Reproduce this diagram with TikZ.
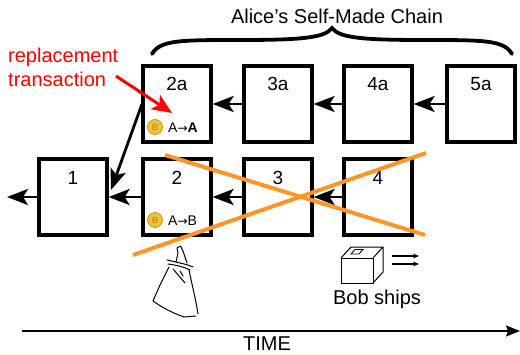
\documentclass[tikz,border=0pt]{standalone}
\usepackage{fontspec}
\setmainfont{Liberation Sans}
\newfontfamily\arrowfont{DejaVu Sans}
\usetikzlibrary{arrows.meta}
\definecolor{xorange}{RGB}{255,150,40}
\definecolor{coingold}{RGB}{236,196,60}
\definecolor{coinedge}{RGB}{200,150,30}
\tikzset{
  blk/.style={draw, line width=3.2pt, minimum width=68pt, minimum height=76pt, inner sep=0pt},
  num/.style={font=\fontsize{19}{22}\selectfont},
  lbl/.style={font=\fontsize{20}{24}\selectfont},
  chainarrow/.style={line width=2.8pt, -{Stealth[length=21pt,width=16pt,inset=5pt]}},
  cross/.style={xorange, line width=4pt},
  coinsty/.style={circle, fill=coingold, draw=coinedge, line width=0.8pt, minimum size=15pt, inner sep=0pt},
  coinb/.style={font=\fontsize{9}{9}\selectfont\bfseries, text=coinedge, inner sep=0pt},
  txsty/.style={font=\fontsize{14}{16}\selectfont, inner sep=0pt},
  sketch/.style={line width=1pt, line join=round, line cap=round}
}
\newcommand{\txarrow}{{\arrowfont\fontsize{12}{14}\selectfont →}}
\begin{document}
\begin{tikzpicture}[x=1pt,y=-1pt]
\useasboundingbox (0,0) rectangle (520,354);
% top row
\node[blk] (b2a) at (177,104) {};
\node[blk] (b3a) at (278,104) {};
\node[blk] (b4a) at (378,104) {};
\node[blk] (b5a) at (481,104) {};
% bottom row
\node[blk] (b1) at (73,197) {};
\node[blk] (b2) at (177,197) {};
\node[blk] (b3) at (278,197) {};
\node[blk] (b4) at (378,197) {};
% numbers
\node[num] (n2a) at (177,84) {2a};
\node[num] (n3a) at (278,84) {3a};
\node[num] (n4a) at (378,84) {4a};
\node[num] (n5a) at (481,84) {5a};
\node[num] (n1) at (73,178) {1};
\node[num] (n2) at (177,178) {2};
\node[num] (n3) at (278,178) {3};
\node[num] (n4) at (378,178) {4};
% coins and transactions
\node[coinsty] (c2a) at (155,127) {};
\node[coinb] (cb2a) at (c2a) {B};
\node[txsty, anchor=west] (t2a) at (168,128) {A\txarrow\textbf{A}};
\node[coinsty] (c2) at (155,220) {};
\node[coinb] (cb2) at (c2) {B};
\node[txsty, anchor=west] (t2) at (168,221) {A\txarrow B};
% chain arrows
\draw[chainarrow] (b5a.west) -- (b4a.east);
\draw[chainarrow] (b4a.west) -- (b3a.east);
\draw[chainarrow] (b3a.west) -- (b2a.east);
\draw[chainarrow] (b4.west) -- (b3.east);
\draw[chainarrow] (b3.west) -- (b2.east);
\draw[chainarrow] (b2.west) -- (b1.east);
\coordinate (out) at (7,197);
\draw[chainarrow] (b1.west) -- (out);
\coordinate (s2a) at (142,104);
\coordinate (e1) at (111,190);
\draw[chainarrow] (s2a) -- (e1);
% crossing out
\coordinate (x1a) at (165,155);
\coordinate (x1b) at (425,235);
\coordinate (x2a) at (133,255);
\coordinate (x2b) at (426,153);
\draw[cross] (x1a) -- (x1b);
\draw[cross] (x2a) -- (x2b);
% red label
\node[lbl, text=red, anchor=base west, inner sep=0pt] (rep1) at (8,62) {replacement};
\node[lbl, text=red, anchor=base west, inner sep=0pt] (rep2) at (8,86) {transaction};
\coordinate (ra) at (116,76);
\coordinate (rb) at (172,113);
\draw[red, line width=3pt, -{Stealth[length=20pt,width=17pt,inset=5pt]}] (ra) -- (rb);
% brace and title
\draw[line width=3.8pt, line cap=round]
  (152,54) .. controls (160,40) and (180,40) .. (240,40)
  .. controls (300,40) and (325,38) .. (332,28)
  .. controls (339,38) and (364,40) .. (424,40)
  .. controls (484,40) and (504,40) .. (512,54);
\node[lbl] (title) at (337,16) {Alice's Self-Made Chain};
% wizard sketch
\draw[sketch] (176,262) -- (178,253) -- (177,248) -- (180.5,246) -- (183,251) -- (187,263);
\draw[sketch] (167,260) .. controls (176,262) and (186,264) .. (193,267);
\draw[sketch] (168,264) .. controls (176,265) and (184,267) .. (190,270);
\draw[sketch] (169,267) -- (160,285) -- (153,301) .. controls (160,306) and (170,312) .. (184,317) -- (196,316);
\draw[sketch] (189,270) .. controls (192,285) and (196,300) .. (198,314);
\draw[sketch] (173,269) -- (185,283);
\draw[sketch] (180,271) -- (183,276);
% box (parcel) icon
\draw[line width=1pt, line join=round] (341,258) rectangle (373,283);
\draw[line width=1pt, line join=round] (341,258) -- (351,247) -- (383,247) -- (373,258);
\draw[line width=1pt, line join=round] (383,247) -- (383,272) -- (373,283);
\draw[line width=0.8pt] (351,254) -- (355,249.5) -- (363,249.5) -- (359,254) -- cycle;
\coordinate (sa1) at (392,256);
\coordinate (sb1) at (419,256);
\coordinate (sa2) at (392,264);
\coordinate (sb2) at (419,264);
\draw[line width=1.2pt, -{Stealth[length=6pt,width=5pt]}] (sa1) -- (sb1);
\draw[line width=1.2pt, -{Stealth[length=6pt,width=5pt]}] (sa2) -- (sb2);
\node[lbl] (bob) at (377,299) {Bob ships};
% time axis
\coordinate (ta) at (22,331);
\coordinate (tb) at (520,331);
\draw[line width=1.6pt, -{Stealth[length=14pt,width=11pt,inset=2pt]}] (ta) -- (tb);
\node[lbl] (time) at (267,344) {TIME};
\end{tikzpicture}
\end{document}
